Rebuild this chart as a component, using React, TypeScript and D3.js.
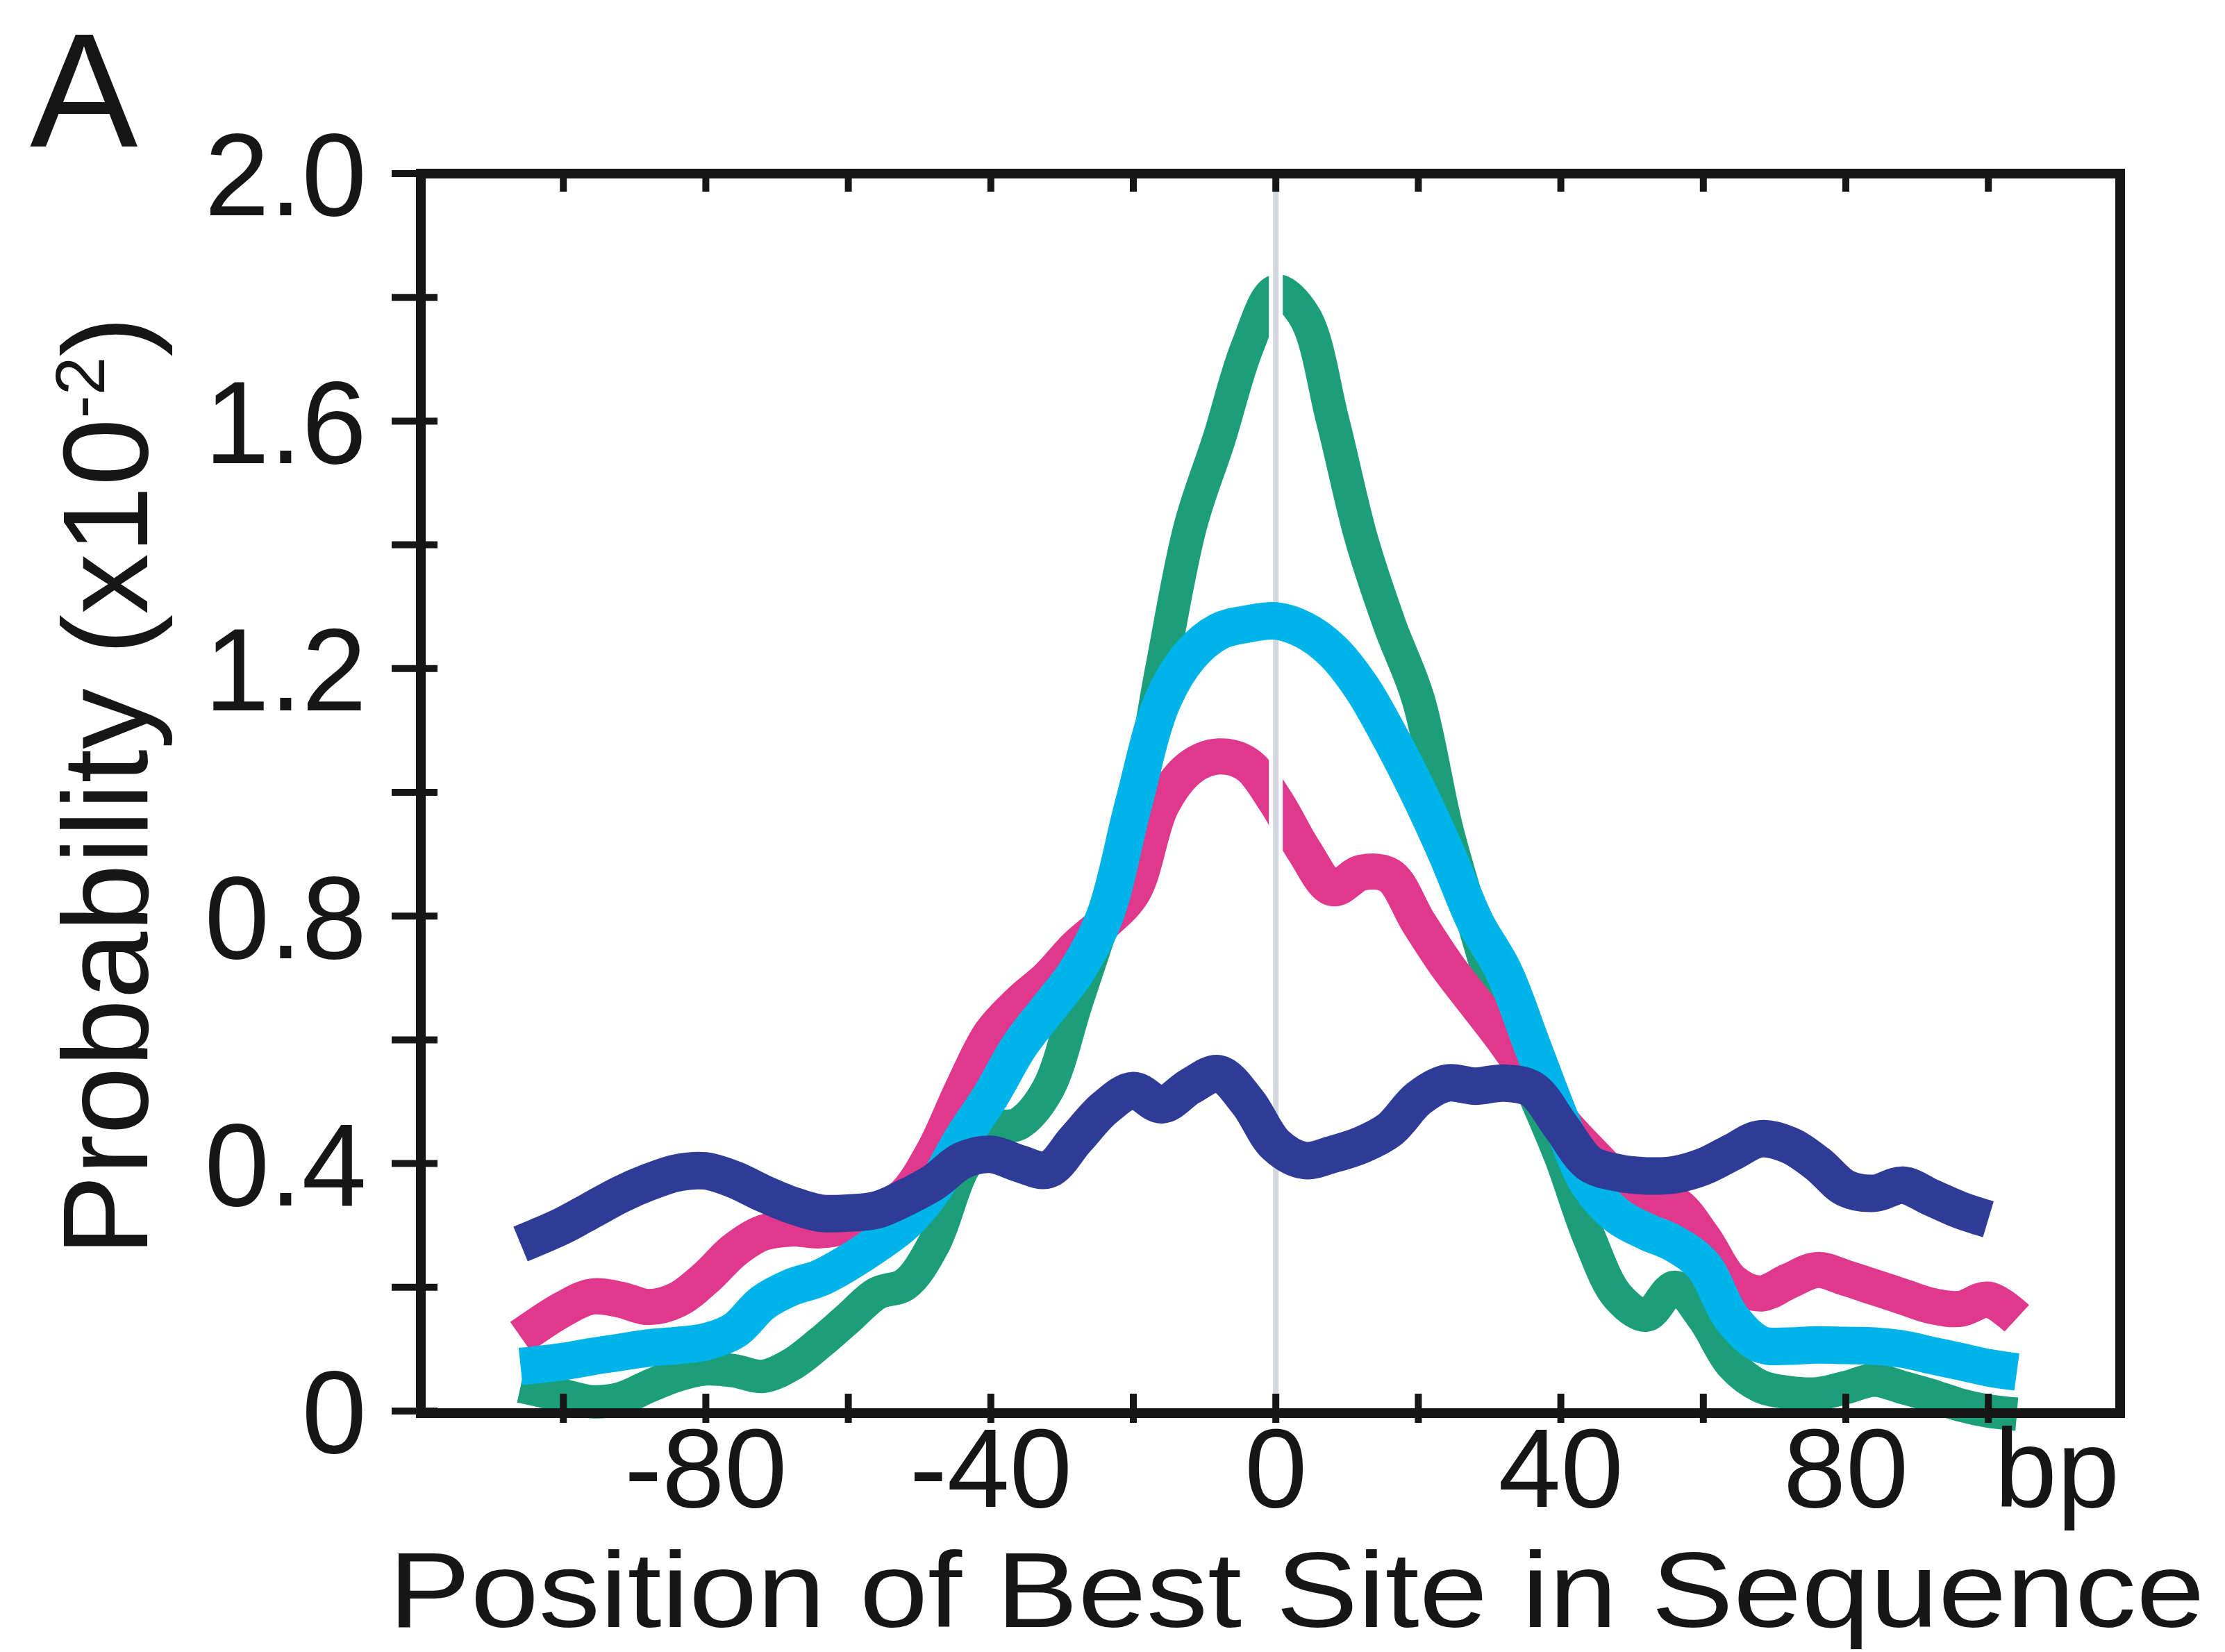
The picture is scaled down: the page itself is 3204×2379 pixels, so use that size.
import React from 'react';
import * as d3 from 'd3';

// Position (bp) of the sampled points
const positions = [-106, -100, -96, -92, -88, -84, -80, -76, -72, -68, -64, -60, -56, -52, -48, -44, -40, -36, -32, -28, -24, -20, -16, -12, -8, -4, 0, 4, 8, 12, 16, 20, 24, 28, 32, 36, 40, 44, 48, 52, 56, 60, 64, 68, 72, 76, 80, 84, 88, 92, 96, 100, 104];

// Probability (x10^-2)
const greenSeries = [0.04, 0.025, 0.015, 0.02, 0.04, 0.058, 0.068, 0.065, 0.056, 0.075, 0.11, 0.15, 0.19, 0.205, 0.27, 0.39, 0.455, 0.465, 0.52, 0.66, 0.8, 0.95, 1.2, 1.43, 1.57, 1.72, 1.81, 1.77, 1.6, 1.41, 1.27, 1.15, 0.94, 0.78, 0.63, 0.52, 0.41, 0.28, 0.185, 0.155, 0.2, 0.15, 0.075, 0.04, 0.03, 0.028, 0.038, 0.05, 0.038, 0.025, 0.01, 0.0, -0.005];
const cyanSeries = [0.072, 0.08, 0.088, 0.095, 0.102, 0.106, 0.112, 0.13, 0.175, 0.2, 0.215, 0.24, 0.27, 0.305, 0.36, 0.44, 0.51, 0.59, 0.65, 0.71, 0.8, 0.98, 1.145, 1.222, 1.26, 1.272, 1.277, 1.262, 1.228, 1.17, 1.09, 1.0, 0.9, 0.79, 0.71, 0.59, 0.47, 0.365, 0.315, 0.29, 0.27, 0.235, 0.15, 0.108, 0.105, 0.107, 0.106, 0.105, 0.1, 0.09, 0.08, 0.07, 0.063];
const pinkSeries = [0.12, 0.165, 0.185, 0.18, 0.168, 0.18, 0.215, 0.26, 0.288, 0.295, 0.292, 0.3, 0.32, 0.35, 0.42, 0.52, 0.61, 0.66, 0.7, 0.75, 0.79, 0.84, 0.98, 1.04, 1.058, 1.045, 0.985, 0.905, 0.845, 0.87, 0.865, 0.79, 0.72, 0.66, 0.6, 0.535, 0.47, 0.42, 0.375, 0.345, 0.335, 0.28, 0.21, 0.19, 0.21, 0.228, 0.215, 0.2, 0.185, 0.17, 0.165, 0.18, 0.15];
const navySeries = [0.27, 0.3, 0.325, 0.35, 0.37, 0.385, 0.388, 0.374, 0.352, 0.333, 0.32, 0.32, 0.325, 0.345, 0.37, 0.405, 0.415, 0.4, 0.39, 0.44, 0.49, 0.518, 0.495, 0.525, 0.545, 0.5, 0.43, 0.405, 0.415, 0.43, 0.455, 0.505, 0.53, 0.525, 0.53, 0.52, 0.46, 0.4, 0.385, 0.38, 0.382, 0.395, 0.418, 0.44, 0.43, 0.4, 0.36, 0.352, 0.365, 0.345, 0.325, 0.31, null];

const yTicks = [0, 0.2, 0.4, 0.6, 0.8, 1.0, 1.2, 1.4, 1.6, 1.8, 2.0];
const yTickLabels = ['0', '', '0.4', '', '0.8', '', '1.2', '', '1.6', '', '2.0'];
const xTicks = [-100, -80, -60, -40, -20, 0, 20, 40, 60, 80, 100];
const xTickLabels = ['', '-80', '', '-40', '', '0', '', '40', '', '80', ''];

const seriesDefs = [
  { name: 'green', values: greenSeries, color: '#1c9f78', width: 48 },
  { name: 'pink', values: pinkSeries, color: '#e0388c', width: 52 },
  { name: 'cyan', values: cyanSeries, color: '#00b3e8', width: 54 },
  { name: 'navy', values: navySeries, color: '#2e3c98', width: 54 },
];

const W = 3204;
const H = 2379;
const FONT = '"Liberation Sans", Arial, Helvetica, sans-serif';

export default function App() {
  const x = d3.scaleLinear().domain([-120, 118.5]).range([606, 3053]);
  const y = d3.scaleLinear().domain([0, 2]).range([2032, 250]);

  const line = d3
    .line<{ p: number; v: number | null }>()
    .defined((d) => d.v !== null && d.v !== undefined)
    .x((d) => x(d.p))
    .y((d) => y(d.v as number))
    .curve(d3.curveCatmullRom.alpha(0.5));

  const paths = seriesDefs.map((s) => ({
    ...s,
    d: line(positions.map((p, i) => ({ p, v: s.values[i] }))) || '',
  }));

  const [x0, x1] = x.range();
  const [yB, yT] = y.range();
  const frameBottom = yB + 3;

  const renderSeries = (name: string) => {
    const s = paths.find((p) => p.name === name)!;
    return (
      <path
        key={name}
        d={s.d}
        fill="none"
        stroke={s.color}
        strokeWidth={s.width}
        strokeLinejoin="round"
        strokeLinecap="butt"
      />
    );
  };

  return (
    <svg
      width={W}
      height={H}
      viewBox={`0 0 ${W} ${H}`}
      style={{ position: 'absolute', left: 0, top: 0, display: 'block', background: '#ffffff' }}
    >
      <rect x={0} y={0} width={W} height={H} fill="#ffffff" />

      {renderSeries('green')}
      {renderSeries('pink')}

      {/* reference line at position 0 */}
      <line x1={x(0)} x2={x(0)} y1={yT} y2={yB} stroke="#ffffff" strokeWidth={20} />
      <line x1={x(0)} x2={x(0)} y1={yT} y2={yB} stroke="#d4d7e0" strokeWidth={8} />

      {renderSeries('cyan')}
      {renderSeries('navy')}

      {/* frame */}
      <rect
        x={x0}
        y={yT}
        width={x1 - x0}
        height={frameBottom - yT}
        fill="none"
        stroke="#161616"
        strokeWidth={14}
      />

      {/* y ticks */}
      {yTicks.map((t, i) => (
        <g key={`yt${i}`}>
          <line x1={x0 - 42} x2={x0 + 24} y1={y(t)} y2={y(t)} stroke="#161616" strokeWidth={10} />
          {yTickLabels[i] && (
            <text
              x={528}
              y={y(t)}
              dy="0.36em"
              textAnchor="end"
              fontFamily={FONT}
              fontSize={168}
              fill="#161616"
            >
              {yTickLabels[i]}
            </text>
          )}
        </g>
      ))}

      {/* x ticks */}
      {xTicks.map((t, i) => (
        <g key={`xt${i}`}>
          <line x1={x(t)} x2={x(t)} y1={frameBottom - 28} y2={frameBottom + 14} stroke="#161616" strokeWidth={10} />
          <line x1={x(t)} x2={x(t)} y1={yT - 6} y2={yT + 26} stroke="#161616" strokeWidth={10} />
          {xTickLabels[i] && (
            <text
              x={x(t)}
              y={2170}
              textAnchor="middle"
              fontFamily={FONT}
              fontSize={162}
              fill="#161616"
            >
              {xTickLabels[i]}
            </text>
          )}
        </g>
      ))}
      <text x={2962} y={2170} textAnchor="middle" fontFamily={FONT} fontSize={162} fill="#161616">
        bp
      </text>

      {/* axis titles */}
      <text
        x={1867}
        y={2343}
        textAnchor="middle"
        fontFamily={FONT}
        fontSize={154}
        fill="#161616"
        textLength={2615}
        lengthAdjust="spacingAndGlyphs"
      >
        Position of Best Site in Sequence
      </text>
      <text
        transform="translate(212, 1132) rotate(-90)"
        textAnchor="middle"
        fontFamily={FONT}
        fontSize={175}
        fill="#161616"
      >
        Probability (x10
        <tspan fontSize={100} dy={-62}>-2</tspan>
        <tspan dy={62}>)</tspan>
      </text>

      {/* panel letter */}
      <text x={43} y={211} fontFamily={FONT} fontSize={233} fill="#161616">
        A
      </text>
    </svg>
  );
}
